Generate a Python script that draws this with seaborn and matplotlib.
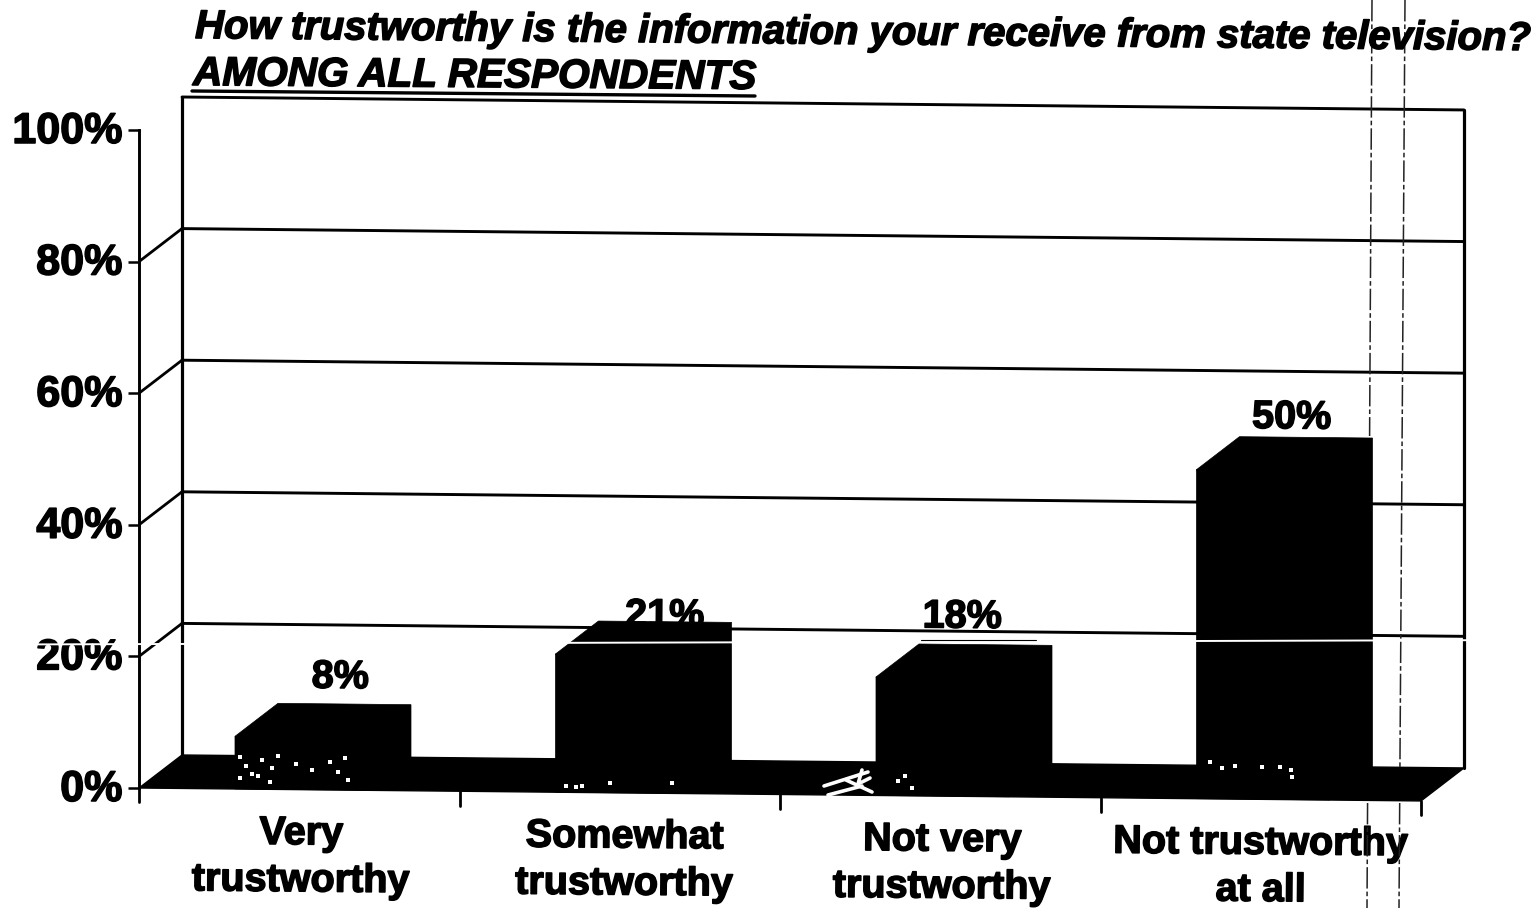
# Trust in state television - scanned 3D style bar chart
import numpy as np
import pandas as pd
import matplotlib
matplotlib.use("Agg")
import matplotlib.pyplot as plt
import matplotlib.patheffects as pe
from matplotlib.lines import Line2D
from matplotlib.patches import Polygon
from matplotlib.transforms import Affine2D
import seaborn as sns

# Data
categories = ["Very\ntrustworthy", "Somewhat\ntrustworthy", "Not very\ntrustworthy", "Not trustworthy\nat all"]
values = [8, 21, 18, 50]
y_ticks = [0, 20, 40, 60, 80, 100]
title_line1 = "How trustworthy is the information your receive from state television?"
title_line2 = "AMONG ALL RESPONDENTS"

W, H = 1536, 908
SLOPE = 0.0101
DX, DY = 43, 33
FONT = "Liberation Sans"

sns.set_theme(style="white")
plt.rcParams["font.family"] = [FONT, "DejaVu Sans"]

fig = plt.figure(figsize=(W / 100, H / 100), dpi=100)
ax = fig.add_axes([139 / W, 1 - 788 / H, (1421 - 139) / W, (788 - 130) / H])

df = pd.DataFrame({"answer": categories, "share": values})
sns.barplot(data=df, x="answer", y="share", color="black", saturation=1, width=0.415,
            edgecolor="black", linewidth=0.5, ax=ax, zorder=4)
ax.set_xlim(-0.5, 3.5)
ax.set_ylim(0, 100)
ax.set_xlabel("")
ax.set_ylabel("")
ax.set_xticks([])
ax.set_yticks(y_ticks)
ax.set_yticklabels([f"{t}%" for t in y_ticks], fontsize=31, fontweight="bold", color="black")
ax.tick_params(axis="y", left=True, length=8, width=1.8, color="black", pad=4)
for lab in ax.get_yticklabels():
    lab.set_transform(lab.get_transform() + Affine2D().translate(0, 2.5))
for side in ["top", "right", "bottom"]:
    ax.spines[side].set_visible(False)
ax.spines["left"].set_linewidth(2.1)
ax.spines["left"].set_color("black")
ax.patch.set_alpha(0)

# The page is tilted a little: right side sits lower
shear = Affine2D(np.array([[1, 0, 0], [-SLOPE, 1, SLOPE * 139], [0, 0, 1]], dtype=float))
tilt = ax.transData + shear
depth = tilt + Affine2D().translate(DX, DY)

# Back wall, gridlines and the diagonals that join them to the axis
for t in y_ticks:
    if t > 0:
        ax.plot([-0.5, 3.5], [t, t], transform=depth, color="black", lw=2.1, clip_on=False, zorder=1)
        p0 = ax.transData.transform((-0.5, t))
        ax.add_line(Line2D([p0[0], p0[0] + DX], [p0[1], p0[1] + DY], transform=None, color="black", lw=2.0, zorder=1))
for x in [-0.5, 3.5]:
    ax.plot([x, x], [0, 100], transform=depth, color="black", lw=2.3, clip_on=False, zorder=1)

# Floor
floor = [tilt.transform((-0.5, 0)), tilt.transform((3.5, 0)), depth.transform((3.5, 0)), depth.transform((-0.5, 0))]
ax.add_patch(Polygon(floor, closed=True, transform=None, facecolor="black", edgecolor="black", zorder=2, clip_on=False))

# Ticks under the floor
for x in np.arange(-0.5, 4):
    ax.plot([x, x], [0, -2.2], transform=tilt, color="black", lw=2.0, clip_on=False, zorder=2)

# Bars: front from seaborn, top and side from the same rectangles
for bar in list(ax.containers[0]):
    x0, w, h = bar.get_x() + 0.007, bar.get_width(), bar.get_height()
    bar.set_x(x0)
    bar.set_transform(tilt)
    bar.set_clip_on(False)
    pts = [tilt.transform((x0, h)), depth.transform((x0, h)), depth.transform((x0 + w, h)),
           depth.transform((x0 + w, 0)), tilt.transform((x0 + w, 0))]
    ax.add_patch(Polygon(pts, closed=True, transform=None, facecolor="black", edgecolor="black",
                         lw=0.5, zorder=4, clip_on=False))

# Value labels, the 21% one runs behind its bar
label_shift = [(-2, 27), (2, 6), (-21, 28), (-12, 20)]
for i, v in enumerate(values):
    ax.annotate(f"{v}%", (i, v), xycoords=depth, xytext=label_shift[i], textcoords="offset pixels",
                ha="center", va="center", fontsize=28.5, fontweight="bold", color="black",
                rotation=-0.5, zorder=3, annotation_clip=False)

# Category labels
label_nudge = [0.006, 0.015, 0.006, 0]
for i, c in enumerate(categories):
    ax.text(i + label_nudge[i], -10.2, c, transform=tilt, ha="center", va="center", fontsize=28.5,
            fontweight="bold", color="black", linespacing=1.3, rotation=-0.5, rotation_mode="anchor",
            clip_on=False, zorder=5)

# Title
fig.text(195 / W, 1 - 38 / H, title_line1, fontsize=28.85, fontweight="bold", style="italic",
         rotation=-0.52, rotation_mode="anchor", ha="left", va="baseline", color="black")
fig.text(193 / W, 1 - 85 / H, title_line2, fontsize=29.2, fontweight="bold", style="italic",
         rotation=-0.4, rotation_mode="anchor", ha="left", va="baseline", color="black")
fig.add_artist(Line2D([192 / W, 755 / W], [1 - 91 / H, 1 - 96 / H], color="black", lw=2.4))

# Scan marks: two copier streaks and a white line through the page
for x_top, x_bot, spans in [(1372, 1367, [(0, 436), (803, 908)]), (1405, 1399, [(0, 768), (803, 908)])]:
    for y0, y1 in spans:
        xs = [x_top + (x_bot - x_top) * y0 / H, x_top + (x_bot - x_top) * y1 / H]
        fig.add_artist(Line2D([xs[0] / W, xs[1] / W], [1 - y0 / H, 1 - y1 / H], color="#222222", lw=1.1,
                              linestyle=(0, (14, 2, 3, 2))))
fig.add_artist(Line2D([0, 1], [1 - 644.5 / H, 1 - 640 / H], color="white", lw=1.4))
fig.add_artist(Line2D([921 / W, 1036 / W], [1 - 640 / H, 1 - 640 / H], color="black", lw=0.8))

speck_x = [240, 246, 252, 262, 272, 278, 296, 312, 330, 338, 345, 348, 240, 258, 270,
           566, 576, 582, 610, 672, 1210, 1222, 1235, 1262, 1280, 1291, 1292, 898, 905, 912]
speck_y = [757, 766, 774, 760, 768, 756, 764, 770, 762, 772, 758, 780, 778, 776, 782,
           786, 787, 786, 783, 783, 762, 768, 766, 767, 767, 770, 777, 781, 776, 788]
fig.add_artist(Line2D(np.array(speck_x) / W, 1 - np.array(speck_y) / H, linestyle="none", marker="s",
                      markersize=2.2, color="white", markeredgewidth=0))
blob_x = [[824, 868], [828, 862], [846, 872], [862, 858, 870]]
blob_y = [[786, 772], [795, 786], [780, 792], [770, 784, 778]]
for bx, by in zip(blob_x, blob_y):
    fig.add_artist(Line2D(np.array(bx) / W, 1 - np.array(by) / H, color="white", lw=2.6))

# Heavier look of the photocopied type
for t in fig.findobj(matplotlib.text.Text):
    t.set_path_effects([pe.withStroke(linewidth=1.1, foreground="black")])

fig.savefig("out.png", dpi=100)
